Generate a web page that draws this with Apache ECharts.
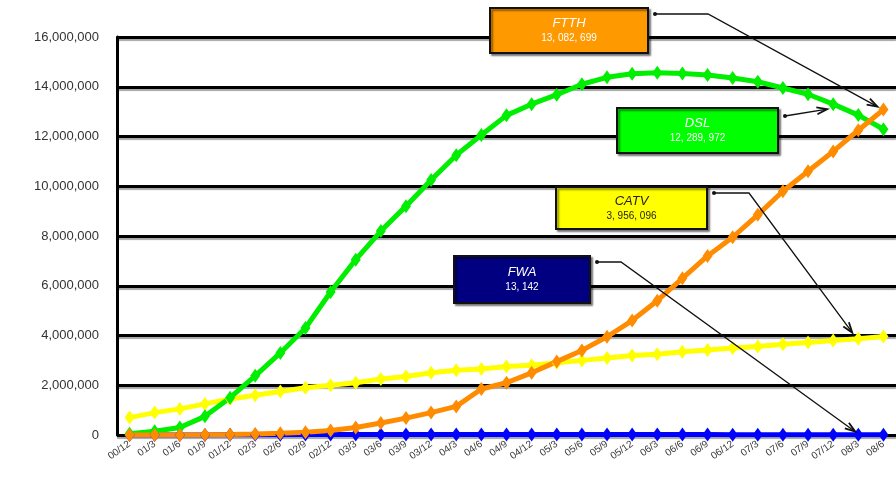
<!DOCTYPE html>
<html>
<head>
<meta charset="utf-8">
<script src="https://cdn.jsdelivr.net/npm/echarts@6/dist/echarts.min.js"></script>
<style>
  html, body { margin: 0; padding: 0; background: #fff; }
  #chart { width: 896px; height: 480px; }
</style>
</head>
<body>
<div id="chart"></div>
<script>
// Quarterly broadband subscriptions by access type
const quarters = ['00/12','01/3','01/6','01/9','01/12','02/3','02/6','02/9','02/12','03/3','03/6','03/9','03/12',
  '04/3','04/6','04/9','04/12','05/3','05/6','05/9','05/12','06/3','06/6','06/9','06/12','07/3','07/6','07/9','07/12','08/3','08/6'];

const dsl = [50000, 150000, 300000, 750000, 1500000, 2380000, 3300000, 4300000, 5750000, 7050000, 8200000, 9200000, 10250000,
  11250000, 12060000, 12850000, 13300000, 13680000, 14100000, 14380000, 14520000, 14560000, 14530000, 14470000, 14350000,
  14200000, 13950000, 13700000, 13300000, 12860000, 12289972];

const ftth = [0, 1000, 5000, 12000, 25000, 40000, 70000, 110000, 180000, 300000, 480000, 680000, 900000,
  1150000, 1850000, 2100000, 2500000, 2950000, 3400000, 3950000, 4600000, 5400000, 6300000, 7200000, 7950000,
  8850000, 9800000, 10600000, 11400000, 12250000, 13082699];

const catv = [700000, 900000, 1050000, 1250000, 1450000, 1600000, 1750000, 1900000, 2000000, 2100000, 2250000, 2350000, 2500000,
  2600000, 2650000, 2750000, 2800000, 2900000, 3000000, 3100000, 3200000, 3250000, 3350000, 3420000, 3500000,
  3560000, 3650000, 3720000, 3800000, 3870000, 3956096];

const fwa = [500, 1500, 3000, 5000, 8000, 11000, 15000, 19000, 22000, 24000, 25000, 25000, 24500,
  24000, 23000, 22000, 21000, 20000, 19000, 18000, 17000, 16500, 16000, 15500, 15000,
  14600, 14200, 13900, 13600, 13350, 13142];

const yTicks = [0, 2000000, 4000000, 6000000, 8000000, 10000000, 12000000, 14000000, 16000000];

const chart = echarts.init(document.getElementById('chart'), null, { renderer: 'canvas' });

function lineSeries(name, data, color) {
  return {
    name, type: 'line', data,
    showSymbol: true, showAllSymbol: true,
    symbol: 'diamond', symbolSize: [10, 14],
    lineStyle: { color, width: 5 },
    itemStyle: { color },
    animation: false
  };
}

chart.setOption({
  animation: false,
  grid: { left: 117, right: -8, top: 37, bottom: 45 },
  xAxis: {
    type: 'category', data: quarters, boundaryGap: true,
    axisLine: { show: true, lineStyle: { color: '#000', width: 2 } },
    axisTick: { show: false },
    axisLabel: { interval: 0, rotate: 35, fontSize: 10, color: '#333', fontFamily: 'Liberation Sans, Arial', margin: 8 }
  },
  yAxis: {
    type: 'value', min: yTicks[0], max: yTicks[yTicks.length - 1], interval: 2000000,
    axisLine: { show: true, lineStyle: { color: '#000', width: 3 } },
    axisTick: { show: false },
    axisLabel: {
      fontSize: 13, color: '#333', fontFamily: 'Liberation Sans, Arial', margin: 18,
      formatter: v => v.toLocaleString('en-US')
    },
    splitLine: { lineStyle: { color: '#000', width: 3, shadowColor: 'rgba(0,0,0,0.35)', shadowOffsetY: 2, shadowBlur: 1 } }
  },
  series: [
    lineSeries('FWA', fwa, '#0000ff'),
    lineSeries('CATV', catv, '#ffff00'),
    lineSeries('DSL', dsl, '#00ee00'),
    lineSeries('FTTH', ftth, '#ff8c00')
  ]
});

// Callout boxes with leader arrows pointing at the series
const callouts = [
  { title: 'FTTH', value: '13, 082, 699', fill: '#ff9900', text: '#fff', box: [490, 8, 158, 45],
    series: 3, idx: 30, data: ftth, bend: 708, tipOff: [-6, -3] },
  { title: 'DSL', value: '12, 289, 972', fill: '#00ff00', text: '#fff', box: [617, 108, 161, 45],
    series: 2, idx: 28, data: dsl, bend: null, tipOff: [-6, 5] },
  { title: 'CATV', value: '3, 956, 096', fill: '#ffff00', text: '#222', box: [556, 187, 151, 42],
    series: 1, idx: 29, data: catv, bend: 749, tipOff: [-6, -6] },
  { title: 'FWA', value: '13, 142', fill: '#000080', text: '#fff', box: [454, 256, 136, 47],
    series: 0, idx: 29, data: fwa, bend: 621, tipOff: [-3, -3] }
];

const elements = [];
callouts.forEach(c => {
  const [bx, by, bw, bh] = c.box;
  elements.push({
    type: 'rect', z: 100,
    shape: { x: bx, y: by, width: bw, height: bh },
    style: { fill: c.fill, stroke: '#111', lineWidth: 2, shadowColor: 'rgba(0,0,0,0.45)', shadowOffsetX: 2, shadowOffsetY: 2, shadowBlur: 2 }
  });
  elements.push({
    type: 'text', z: 101, x: bx + bw / 2, y: by + bh / 2 - 7,
    style: { text: c.title, fill: c.text, font: 'italic 13px "Liberation Sans", Arial', align: 'center', verticalAlign: 'middle' }
  });
  elements.push({
    type: 'text', z: 101, x: bx + bw / 2, y: by + bh / 2 + 8,
    style: { text: c.value, fill: c.text, font: '10px "Liberation Sans", Arial', align: 'center', verticalAlign: 'middle' }
  });

  const p = chart.convertToPixel({ seriesIndex: c.series }, [c.idx, c.data[c.idx]]);
  const tip = [p[0] + c.tipOff[0], p[1] + c.tipOff[1]];
  const start = [bx + bw + 7, by + 6 + (c.title === 'DSL' ? 2 : 0)];
  const pts = [start];
  if (c.bend !== null) pts.push([c.bend, start[1]]);
  pts.push(tip);
  elements.push({ type: 'polyline', z: 102, shape: { points: pts }, style: { stroke: '#111', lineWidth: 1.3, fill: null } });
  elements.push({ type: 'circle', z: 102, shape: { cx: start[0], cy: start[1], r: 2 }, style: { fill: '#111' } });

  // arrowhead
  const prev = pts[pts.length - 2];
  const ang = Math.atan2(tip[1] - prev[1], tip[0] - prev[0]);
  const len = 11, half = 0.32;
  const a1 = [tip[0] - len * Math.cos(ang - half), tip[1] - len * Math.sin(ang - half)];
  const a2 = [tip[0] - len * Math.cos(ang + half), tip[1] - len * Math.sin(ang + half)];
  elements.push({ type: 'polyline', z: 103, shape: { points: [a1, tip, a2] }, style: { stroke: '#111', lineWidth: 1.8, fill: null } });
});

chart.setOption({ graphic: { elements } });
</script>
</body>
</html>
